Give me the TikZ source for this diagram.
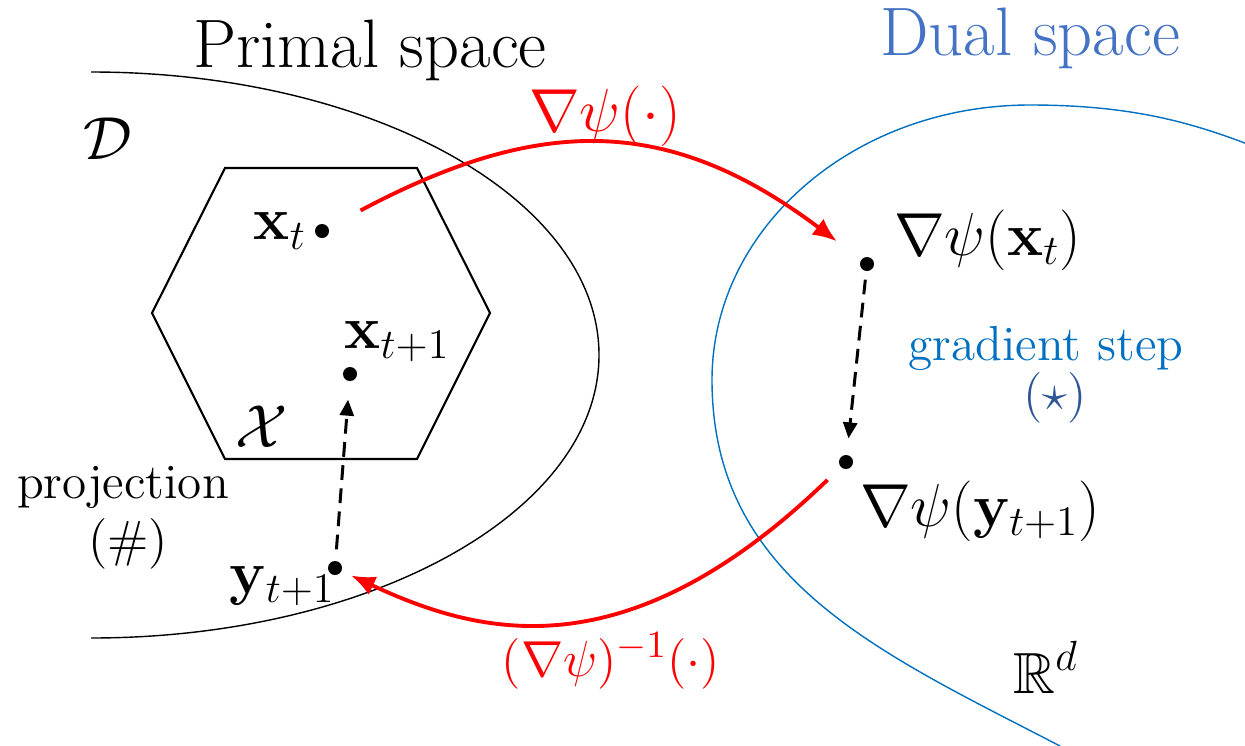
\documentclass[tikz,border=0pt]{standalone}
\usepackage{amsmath,amsfonts,amssymb}
\usetikzlibrary{positioning, arrows.meta}
\definecolor{dualblue}{RGB}{68,114,196}
\definecolor{curveblue}{RGB}{0,112,192}
\definecolor{stardark}{RGB}{47,85,151}

\begin{document}
\begin{tikzpicture}[
    x=0.01cm, y=-0.01cm,
    dot/.style={circle, fill=black, inner sep=0pt, minimum size=0.14cm},
    lbl/.style={inner sep=1pt, font=\fontsize{16.5}{20}\selectfont},
    ttl/.style={inner sep=0pt, font=\fontsize{19.5}{23}\selectfont},
    txt/.style={inner sep=0pt, font=\fontsize{14}{17}\selectfont},
    sym/.style={inner sep=0pt, font=\fontsize{15.5}{18}\selectfont},
    maparrow/.style={-{Latex[length=2.4mm, width=2mm]}, red, line width=1.1pt},
    steparrow/.style={-{Triangle[length=1.6mm, width=1.4mm]}, line width=0.85pt, dash pattern=on 4.2pt off 2.4pt},
    rim/.style={line width=0.4pt}
]
\useasboundingbox (0,0) rectangle (1245,745);

% primal domain D, dual space and the set X
\draw[rim] (91,72) arc[start angle=-90, end angle=90, x radius=508, y radius=283];
\draw[rim, curveblue] (1250,145) .. controls (1190,122) and (1130,105) .. (1030,105)
    .. controls (854,105) and (712,228) .. (712,380)
    .. controls (712,580) and (881,653) .. (1060,746);
\draw[line width=0.6pt] (225,168) -- (417,168) -- (490,313) -- (417,459) -- (225,459) -- (152,313) -- cycle;

\node[ttl, anchor=base] (primal) at (370,67) {Primal space};
\node[ttl, anchor=base, text=dualblue] (dual) at (1030,55) {Dual space};
\node[lbl] (dom) at (108,139) {$\mathcal{D}$};
\node[lbl] (cset) at (262,427) {$\mathcal{X}$};
\node[lbl, anchor=base] (rd) at (1046,693) {$\mathbb{R}^d$};

% iterates
\node[dot] (xt) at (322,231) {};
\node[dot] (xtnext) at (350,374) {};
\node[dot] (ytnext) at (335,568) {};
\node[dot] (gxt) at (867,264) {};
\node[dot] (gyt) at (846,462) {};

\node[lbl, left=0.035cm of xt] (xt_l) {$\mathbf{x}_t$};
\node[lbl, above right=0.03cm and -0.15cm of xtnext] (xtnext_l) {$\mathbf{x}_{t+1}$};
\node[lbl, below left=-0.11cm and -0.1cm of ytnext] (ytnext_l) {$\mathbf{y}_{t+1}$};
\node[lbl, above right=-0.165cm and 0.175cm of gxt] (gxt_l) {$\nabla\psi(\mathbf{x}_t)$};
\node[lbl, below right=0.095cm and 0.045cm of gyt] (gyt_l) {$\nabla\psi(\mathbf{y}_{t+1})$};

% mirror maps
\draw[maparrow, shorten <=3.6mm, shorten >=3mm] (xt) to[out=28, in=143, looseness=1.15] (gxt);
\draw[maparrow, shorten <=1.8mm, shorten >=1mm] (gyt) to[out=-136, in=-25, out looseness=1.5, in looseness=0.76] (ytnext);
\node[lbl, anchor=base, text=red] (fwd_l) at (605,131) {$\nabla\psi(\cdot)$};
\node[lbl, anchor=base, text=red, font=\fontsize{15}{18}\selectfont] (bwd_l) at (611,676) {$(\nabla\psi)^{-1}(\cdot)$};

% gradient step and projection
\draw[steparrow, shorten <=0.8mm, shorten >=1.6mm] (gxt) -- (gyt);
\draw[steparrow, shorten <=1.1mm, shorten >=1.8mm] (ytnext) -- (xtnext);
\node[txt, anchor=base, text=curveblue] (grad) at (1046,360) {gradient step};
\node[sym, anchor=base, text=stardark] (star) at (1055,410) {$(\star)$};
\node[txt, anchor=base] (proj) at (123,498) {projection};
\node[sym, anchor=base] (hash) at (128,556) {$(\#)$};
\end{tikzpicture}
\end{document}
